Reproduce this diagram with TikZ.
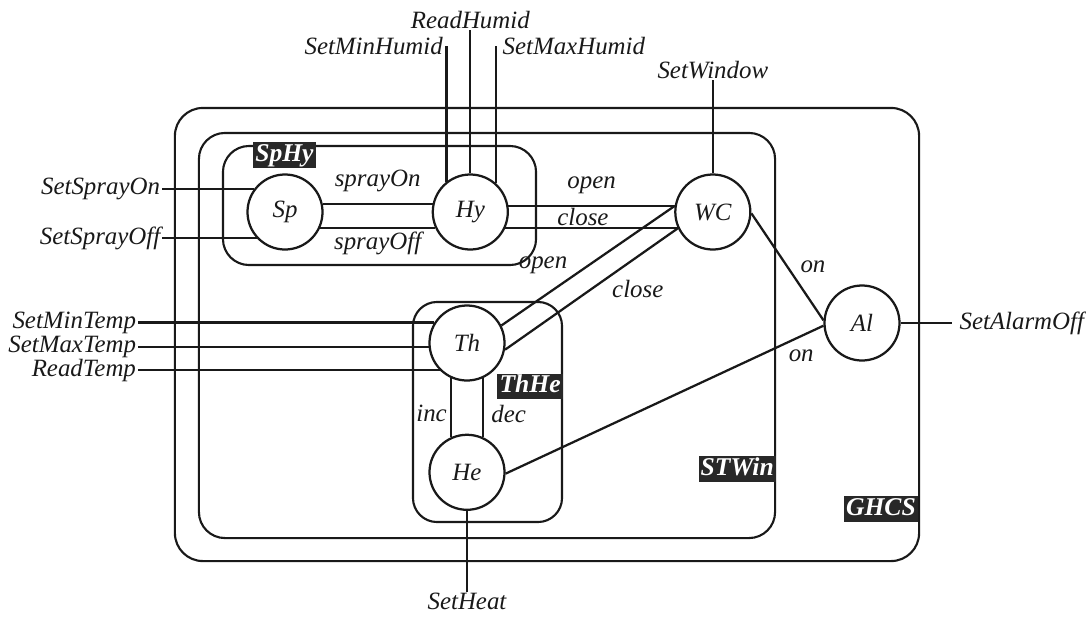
\documentclass[tikz,border=0pt]{standalone}
\usepackage{fontspec}
\setmainfont{Liberation Serif}
\usetikzlibrary{positioning}
\definecolor{lineclr}{RGB}{25,25,25}
\definecolor{tagbg}{RGB}{40,40,40}
\newcommand{\lblfont}{\fontsize{17.7}{20}\selectfont\itshape}
\newcommand{\tagfont}{\fontsize{18.2}{20}\selectfont\bfseries\itshape}
\tikzset{
  st/.style={circle,draw=lineclr,line width=1.6pt,minimum size=1.875cm,
    inner sep=0pt,font=\lblfont,text=lineclr},
  grp/.style={rectangle,rounded corners=0.7cm,draw=lineclr,line width=1.5pt,
    inner sep=0pt},
  tag/.style={rectangle,fill=tagbg,text=white,font=\tagfont,
    inner xsep=1.5pt,inner ysep=0.8pt,text height=12.6pt,text depth=4pt},
  lbl/.style={font=\lblfont,inner sep=1pt,text=lineclr},
  ln/.style={line width=1.6pt,draw=lineclr},
}

\begin{document}
\begin{tikzpicture}[x=0.025cm,y=-0.025cm]
  \useasboundingbox (0,0) rectangle (1086,620);

  % nested subsystems
  \node[grp,minimum width=18.6cm,minimum height=11.325cm] (ghcs) at (547,334.5) {};
  \node[grp,minimum width=14.4cm,minimum height=10.125cm,rounded corners=0.65cm] (stwin) at (487,335.5) {};
  \node[grp,minimum width=7.825cm,minimum height=2.975cm,rounded corners=0.65cm] (sphy) at (379.5,205.5) {};
  \node[grp,minimum width=3.725cm,minimum height=5.5cm,rounded corners=0.6cm] (thhe) at (487.5,412) {};

  \node[tag,anchor=north west] (tSpHy) at ([xshift=0.775cm,yshift=0.075cm]sphy.north west) {SpHy};
  \node[tag,anchor=east] (tThHe) at ([yshift=0.64cm]thhe.east) {ThHe};
  \node[tag,anchor=south east] (tSTWin) at ([yshift=1.425cm]stwin.south east) {STWin};
  \node[tag,anchor=south east] (tGHCS) at ([xshift=-0.05cm,yshift=1.0cm]ghcs.south east) {GHCS};

  % components
  \node[st] (Sp) at (285,212) {Sp};
  \node[st,right=2.7cm of Sp] (Hy) {Hy};
  \node[st,right=4.13cm of Hy] (WC) {WC};
  \node[st] (Th) at (467,343) {Th};
  \node[st,below=1.3cm of Th] (He) {He};
  \node[st] (Al) at (862,323) {Al};

  % environment events
  \node[lbl,above=3.58cm of Hy.north] (rdHum) {ReadHumid};
  \node[lbl,above left=3.13cm and 0.05cm of Hy.128] (setMinHum) {SetMinHumid};
  \node[lbl,above right=3.18cm and 0.12cm of Hy.48] (setMaxHum) {SetMaxHumid};
  \node[lbl,above=2.33cm of WC.north] (setWin) {SetWindow};
  \node[lbl,left=2.3cm of Sp.144] (setSpOn) {SetSprayOn};
  \node[lbl,left=2.37cm of Sp.223] (setSpOff) {SetSprayOff};
  \node[lbl,inner ysep=0pt,left=7.41cm of Th.148] (setMinT) {SetMinTemp};
  \node[lbl,inner ysep=0pt,left=7.27cm of Th.186] (setMaxT) {SetMaxTemp};
  \node[lbl,inner ysep=0pt,left=7.55cm of Th.225] (rdT) {ReadTemp};
  \node[lbl,below=2.02cm of He.south] (setHeat) {SetHeat};
  \node[lbl,right=1.29cm of Al.east,inner xsep=5pt] (setAlOff) {SetAlarmOff};

  \draw[ln] (Hy.north) -- (rdHum.south);
  \draw[ln] (Hy.128) -- (Hy.128 |- setMinHum.east);
  \draw[ln] (Hy.48) -- (Hy.48 |- setMaxHum.west);
  \draw[ln] (WC.north) -- (setWin.south);
  \draw[ln] (Sp.144) -- (setSpOn.east);
  \draw[ln] (Sp.223) -- (setSpOff.east);
  \draw[ln] (Th.148) -- (setMinT.east);
  \draw[ln] (Th.186) -- (setMaxT.east);
  \draw[ln] (Th.225) -- (rdT.east);
  \draw[ln] (He.south) -- (setHeat.north);
  \draw[ln] (Al.east) -- (setAlOff.west);

  % internal channels
  \draw[ln] (Sp.12) -- node[lbl,above=7pt]{sprayOn} (Hy.168);
  \draw[ln] (Sp.-25) -- node[lbl,below=1pt]{sprayOff} (Hy.205);
  \draw[ln] (Hy.9) -- node[lbl,above=7pt]{open} (WC.171);
  \draw[ln] (Hy.-25) -- node[lbl,above,pos=.45]{close} (WC.205);
  \draw[ln] (Th.27) -- node[lbl,left=13pt]{open} (WC.171);
  \draw[ln] (Th.-10) -- node[lbl,right=13pt]{close} (WC.205);
  \draw[ln] (Th.245) -- node[lbl,left=1pt,pos=.6]{inc} (He.115);
  \draw[ln] (Th.295) -- node[lbl,right=4pt,pos=.6]{dec} (He.65);
  \draw[ln] (WC.-2) -- node[lbl,right=7.5pt]{on} (Al.176);
  \draw[ln] (He.-2) -- node[lbl,below=8pt,pos=.93]{on} (Al.184);

\end{tikzpicture}
\end{document}
